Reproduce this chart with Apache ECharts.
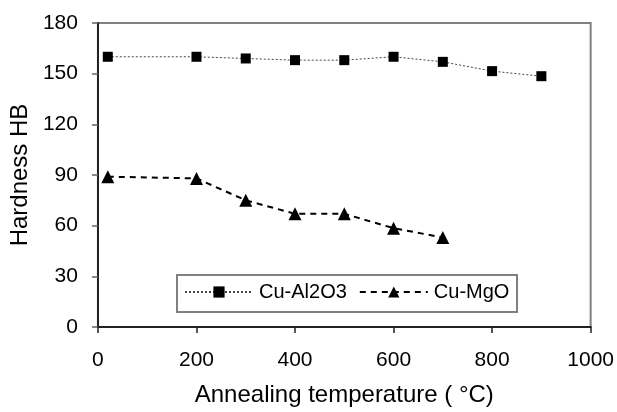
<!DOCTYPE html>
<html>
<head>
<meta charset="utf-8">
<script src="https://cdn.jsdelivr.net/npm/echarts@6/dist/echarts.min.js"></script>
<style>
html,body{margin:0;padding:0;background:#fff;}
#chart{width:617px;height:412px;}
</style>
</head>
<body>
<div id="chart"></div>
<script>
const temps = [20, 200, 300, 400, 500, 600, 700, 800, 900];
const cuAl2O3 = [160, 160, 159, 158, 158, 160, 157, 151.5, 148.5];
const tempsMgO = [20, 200, 300, 400, 500, 600, 700];
const cuMgO = [89, 88, 75, 67, 67, 58.5, 53];
const seriesNames = ['Cu-Al2O3', 'Cu-MgO'];
const xTitle = 'Annealing temperature ( °C)';
const yTitle = 'Hardness HB';

const font = 'Liberation Sans, Arial, sans-serif';
const chart = echarts.init(document.getElementById('chart'), null, {renderer: 'canvas'});
chart.setOption({
  animation: false,
  backgroundColor: '#fff',
  grid: {left: 94, right: 25, top: 23, bottom: 85, show: true, borderColor: '#808080', borderWidth: 2, backgroundColor: 'transparent'},
  xAxis: {
    type: 'value', min: 0, max: 1000, interval: 200,
    name: xTitle, nameLocation: 'middle', nameGap: 56,
    nameTextStyle: {fontFamily: font, fontSize: 24, color: '#000'},
    axisLine: {show: true, onZero: false, lineStyle: {color: '#222', width: 2}},
    axisTick: {show: true, inside: false, length: 6, lineStyle: {color: '#222', width: 1.5}},
    axisLabel: {fontFamily: font, fontSize: 21, color: '#000', margin: 23, formatter: v => String(v)},
    splitLine: {show: false}
  },
  yAxis: {
    type: 'value', min: 0, max: 180, interval: 30,
    name: yTitle, nameLocation: 'middle', nameGap: 62, nameRotate: 90,
    nameTextStyle: {fontFamily: font, fontSize: 24, color: '#000'},
    axisLine: {show: true, lineStyle: {color: '#222', width: 2}},
    axisTick: {show: true, inside: false, length: 6, lineStyle: {color: '#666', width: 1.5}},
    axisLabel: {fontFamily: font, fontSize: 21, color: '#000', margin: 20},
    splitLine: {show: false}
  },
  graphic: [{
    type: 'rect', left: 176, top: 274, z: 90,
    shape: {width: 340, height: 37},
    style: {fill: '#fff', stroke: '#808080', lineWidth: 2}
  }],
  legend: {
    left: 184, top: 282, padding: 0, z: 100,
    itemWidth: 68, itemHeight: 14, itemGap: 12,
    textStyle: {fontFamily: font, fontSize: 20, color: '#000', padding: [0, 0, 0, 1]},
    data: seriesNames
  },
  series: [
    {
      name: seriesNames[0], type: 'line',
      data: temps.map((t, i) => [t, cuAl2O3[i]]),
      symbol: 'rect', symbolSize: 10,
      itemStyle: {color: '#000'},
      lineStyle: {color: '#444', width: 1, type: [2, 2]}
    },
    {
      name: seriesNames[1], type: 'line',
      data: tempsMgO.map((t, i) => [t, cuMgO[i]]),
      symbol: 'triangle', symbolSize: 13,
      itemStyle: {color: '#000'},
      lineStyle: {color: '#000', width: 2, type: [6, 5]}
    }
  ]
});
</script>
</body>
</html>
